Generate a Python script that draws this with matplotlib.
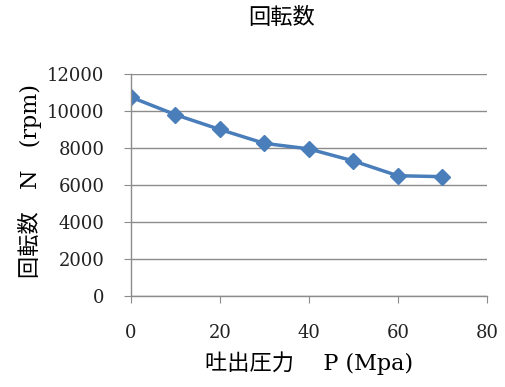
import matplotlib
matplotlib.use('Agg')
import matplotlib.pyplot as plt

plt.rcParams['font.family'] = ['DejaVu Serif', 'Noto Sans CJK JP']

# data
pressure = [0, 10, 20, 30, 40, 50, 60, 70]
rpm = [10750, 9800, 9000, 8250, 7950, 7300, 6500, 6450]
x_ticks = [0, 20, 40, 60, 80]
y_ticks = [0, 2000, 4000, 6000, 8000, 10000, 12000]

fig = plt.figure(figsize=(5.05, 3.87), dpi=100)
ax = fig.add_axes([0.259, 0.235, 0.705, 0.574])

ax.plot(pressure, rpm, color='#4a7ebb', lw=2.5, marker='D', ms=8, mec='#4a7ebb', mfc='#4a7ebb')

ax.set_xlim(0, 80)
ax.set_ylim(0, 12000)
ax.set_xticks(x_ticks)
ax.set_yticks(y_ticks)
ax.grid(axis='y', color='#8c8c8c', lw=1)
ax.set_axisbelow(True)

for s in ['top', 'right']:
    ax.spines[s].set_visible(False)
for s in ['left', 'bottom']:
    ax.spines[s].set_color('#8c8c8c')
    ax.spines[s].set_linewidth(1)

ax.tick_params(axis='both', colors='#8c8c8c', labelcolor='#222222', labelsize=13, length=5)
ax.tick_params(axis='y', pad=14)
ax.tick_params(axis='x', pad=15)

fig.text(0.558, 0.953, '回転数', fontsize=16, ha='center', va='center')
ax.set_xlabel('吐出圧力　 P (Mpa)', fontsize=16)
ax.xaxis.set_label_coords(0.5, -0.25)
ax.set_ylabel('回転数　N　(rpm)', fontsize=16)
ax.yaxis.set_label_coords(-0.25, 0.52)

fig.savefig('out.png', dpi=100)
